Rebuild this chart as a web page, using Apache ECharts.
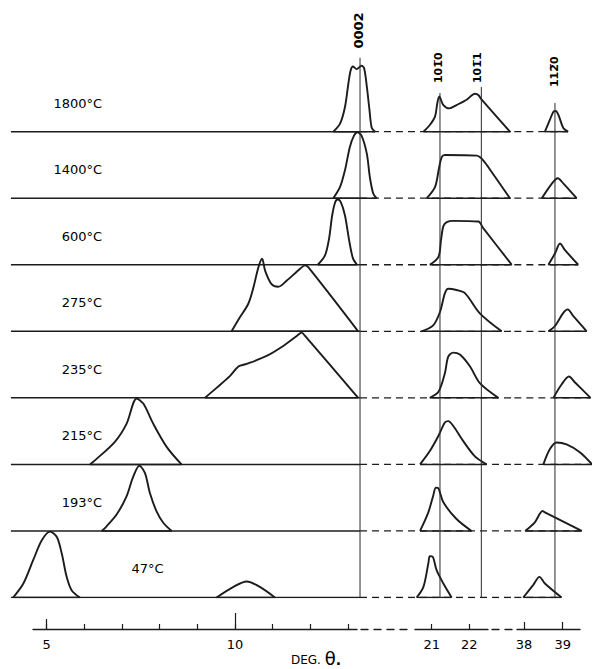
<!DOCTYPE html>
<html><head><meta charset="utf-8">
<script src="https://cdn.jsdelivr.net/npm/echarts@6/dist/echarts.min.js"></script>
<style>html,body{margin:0;padding:0;background:#fff}#c{width:592px;height:669px}</style>
</head><body><div id="c"></div>
<script>
// ---------- DATA (row 0 = bottom, 47 °C ... row 7 = top, 1800 °C) ----------
const temps = ['47°C','193°C','215°C','235°C','275°C','600°C','1400°C','1800°C'];
const reflections = ['0002','101\u03050','101\u03051','112\u03050'];
const reflectionTheta = [13.32, 21.22, 22.32, 38.80];
const reflectionTop = [8.11, 7.58, 7.67, 7.43];
const tickValuesLow = [5,6,7,8,9,10,11,12,13];
const tickLabelsLow = [5,10];
const tickValuesMid = [21,22];
const tickValuesHigh = [38,39];

// profiles: [theta (deg), intensity in row-spacing units]
const low_47a  = [[4.11,0],[4.38,0.21],[4.64,0.56],[4.87,0.86],[5.09,0.99],[5.27,0.91],[5.40,0.66],[5.53,0.31],[5.66,0.11],[5.88,0]];
const low_47b  = [[9.51,0],[9.96,0.16],[10.31,0.24],[10.66,0.16],[11.06,0]];
const low_193  = [[6.46,0],[6.59,0.07],[6.86,0.25],[7.12,0.52],[7.30,0.82],[7.46,0.98],[7.61,0.87],[7.74,0.57],[7.92,0.29],[8.10,0.12],[8.32,0]];
const low_215  = [[6.15,0],[6.28,0.06],[6.81,0.34],[7.12,0.61],[7.39,0.99],[7.57,0.91],[7.83,0.61],[8.19,0.26],[8.58,0]];
const low_235  = [[9.20,0],[9.51,0.15],[9.87,0.33],[10.09,0.47],[10.31,0.51],[10.84,0.63],[11.28,0.78],[11.64,0.93],[11.77,0.98],[11.86,0.93],[13.27,0]];
const low_275  = [[9.91,0],[10.13,0.21],[10.35,0.41],[10.49,0.66],[10.62,0.96],[10.72,1.09],[10.80,0.91],[10.97,0.71],[11.15,0.67],[11.37,0.76],[11.73,0.94],[11.86,0.99],[11.95,0.96],[13.27,0]];
const low_600  = [[12.20,0],[12.39,0.14],[12.50,0.40],[12.58,0.74],[12.66,0.94],[12.73,0.98],[12.81,0.94],[12.92,0.74],[13.03,0.37],[13.13,0.10],[13.24,0]];
const low_1400 = [[12.61,0],[12.79,0.17],[12.92,0.42],[13.05,0.77],[13.16,0.94],[13.25,0.99],[13.36,0.94],[13.50,0.67],[13.58,0.32],[13.67,0.07],[13.76,0]];
const low_1800 = [[12.61,0],[12.79,0.12],[12.92,0.37],[13.01,0.72],[13.07,0.92],[13.13,0.98],[13.23,0.94],[13.36,0.99],[13.43,0.95],[13.50,0.68],[13.57,0.33],[13.63,0.06],[13.72,0]];
const mid_47   = [[20.60,0],[20.78,0.16],[20.91,0.51],[20.95,0.62],[21.03,0.61],[21.13,0.41],[21.31,0.21],[21.53,0]];
const mid_193  = [[20.69,0],[20.91,0.28],[21.04,0.53],[21.11,0.65],[21.18,0.64],[21.31,0.43],[21.66,0.18],[22.06,0]];
const mid_215  = [[20.69,0],[20.95,0.20],[21.18,0.43],[21.35,0.63],[21.44,0.65],[21.57,0.58],[21.84,0.35],[22.15,0.12],[22.46,0]];
const mid_235  = [[20.95,0],[21.18,0.09],[21.35,0.37],[21.44,0.62],[21.57,0.68],[21.75,0.65],[22.02,0.47],[22.28,0.22],[22.77,0]];
const mid_275  = [[20.73,0],[21.04,0.09],[21.22,0.29],[21.35,0.57],[21.44,0.64],[21.66,0.62],[21.89,0.57],[22.28,0.27],[22.86,0]];
const mid_600  = [[20.95,0],[21.18,0.12],[21.25,0.38],[21.31,0.58],[21.40,0.64],[21.57,0.66],[22.24,0.65],[22.37,0.55],[23.13,0]];
const mid_1400 = [[20.87,0],[21.09,0.17],[21.20,0.47],[21.27,0.62],[21.35,0.65],[22.20,0.64],[22.37,0.57],[22.60,0.39],[23.08,0]];
const mid_1800 = [[20.78,0],[20.95,0.10],[21.09,0.23],[21.15,0.43],[21.20,0.53],[21.31,0.40],[21.47,0.35],[21.66,0.40],[21.93,0.48],[22.15,0.57],[22.24,0.55],[22.33,0.48],[23.08,0]];
const high_47   = [[37.98,0],[38.24,0.19],[38.40,0.31],[38.54,0.21],[38.97,0]];
const high_193  = [[38.03,0],[38.28,0.13],[38.48,0.30],[38.54,0.28],[39.49,0]];
const high_215  = [[38.50,0],[38.67,0.23],[38.84,0.33],[39.10,0.30],[39.45,0.18],[39.76,0]];
const high_235  = [[38.76,0],[38.97,0.20],[39.16,0.32],[39.32,0.23],[39.72,0]];
const high_275  = [[38.63,0],[38.80,0.08],[39.02,0.28],[39.13,0.33],[39.27,0.23],[39.62,0]];
const high_600  = [[38.63,0],[38.80,0.17],[38.93,0.32],[39.06,0.22],[39.40,0]];
const high_1400 = [[38.46,0],[38.72,0.22],[38.87,0.30],[39.02,0.22],[39.36,0]];
const high_1800 = [[38.54,0],[38.67,0.18],[38.76,0.30],[38.82,0.31],[38.89,0.25],[39.02,0.05],[39.14,0]];

const lowProfiles  = [[low_47a, low_47b],[low_193],[low_215],[low_235],[low_275],[low_600],[low_1400],[low_1800]];
const midProfiles  = [mid_47, mid_193, mid_215, mid_235, mid_275, mid_600, mid_1400, mid_1800];
const highProfiles = [high_47, high_193, high_215, high_235, high_275, high_600, high_1400, high_1800];

// ---------- LAYOUT ----------
const UNIT = 66.55, BASE0 = 597.5;
const YMAX = BASE0 / UNIT;
const FONT = 'DejaVu Sans';
const INK = '#000000';
const plotSegs = [
  {min:4.0,   max:14.25, left:235 - 6*37.66,   scale:37.66},
  {min:20.05, max:23.2,  left:431.7 - 0.95*37.6, scale:37.6},
  {min:37.75, max:39.8,  left:524 - 0.25*38.7,  scale:38.7}
];
const lowBaseStart = 4.05, lowBaseEnd = 13.32;
const labelTheta = 6.47, labelLift = 0.43, label47Theta = 7.68;
const reflLabelY = [8.52, 7.96, 7.96, 7.90];
const reflLabelX = [13.27, 21.19, 22.22, 38.80];

const grids = [], xAxes = [], yAxes = [], series = [];
plotSegs.forEach((s,i)=>{
  grids.push({left:s.left, top:0, width:(s.max-s.min)*s.scale, height:BASE0, containLabel:false, outerBoundsMode:'none'});
  xAxes.push({type:'value', gridIndex:i, min:s.min, max:s.max, show:false});
  yAxes.push({type:'value', gridIndex:i, min:0, max:YMAX, show:false});
});
const axisSegs = [
  {left:33,  width:324, min:4.636,  max:13.24,  ticks:tickValuesLow, labels:tickLabelsLow, dashed:false},
  {left:361, width:51,  min:0, max:1, ticks:[], labels:[], dashed:true},
  {left:415, width:73,  min:20.556, max:22.497, ticks:tickValuesMid, labels:tickValuesMid, dashed:false},
  {left:492, width:22,  min:0, max:1, ticks:[], labels:[], dashed:true},
  {left:517, width:63,  min:37.819, max:39.447, ticks:tickValuesHigh, labels:tickValuesHigh, dashed:false}
];
axisSegs.forEach((a,k)=>{
  const gi = grids.length;
  grids.push({left:a.left, top:600, width:a.width, height:29, containLabel:false, outerBoundsMode:'none'});
  yAxes.push({type:'value', gridIndex:gi, min:0, max:1, show:false});
  xAxes.push({type:'value', gridIndex:gi, min:a.min, max:a.max, position:'bottom',
    axisLine:{show:true, onZero:false, lineStyle:{color:'#1c1c1c', width:1.4, type:a.dashed?[7,6]:'solid'}},
    axisTick:{show:a.ticks.length>0, inside:true, length:k===4?7:5, lineStyle:{color:'#1c1c1c',width:1.2}, customValues:a.ticks},
    axisLabel:{show:a.labels.length>0, customValues:a.labels, margin:9, fontFamily:FONT, fontSize:13, color:INK},
    splitLine:{show:false}});
  if(k===0){
    [[5,10],[10,16]].forEach(([v,len])=>{
      xAxes.push({type:'value', gridIndex:gi, min:a.min, max:a.max, position:'bottom',
        axisLine:{show:false, onZero:false}, axisLabel:{show:false}, splitLine:{show:false},
        axisTick:{show:true, inside:true, length:len, customValues:[v], lineStyle:{color:'#1c1c1c',width:1.2}}});
    });
  }
});
function line(data, gi, opts){
  series.push(Object.assign({type:'line', xAxisIndex:gi, yAxisIndex:gi, data, showSymbol:false, symbol:'none',
    silent:true, animation:false, lineStyle:{color:'#1c1c1c', width:1.5}}, opts||{}));
}
const LC = '#1c1c1c';
temps.forEach((t,r)=>{
  line([[lowBaseStart,r],[lowBaseEnd,r]],0,{lineStyle:{color:LC,width:1.5}, z:2});
  line([[lowBaseEnd,r],[plotSegs[0].max,r]],0,{lineStyle:{color:LC,width:1.3,type:[7,5]}, z:1});
  line([[plotSegs[1].min,r],[plotSegs[1].max,r]],1,{lineStyle:{color:LC,width:1.3,type:[7,5]}, z:1});
  const hp = highProfiles[r];
  line([[plotSegs[2].min,r],[hp[hp.length-1][0],r]],2,{lineStyle:{color:LC,width:1.3,type:[7,5]}, z:1});
  const addProfile = (p, gi)=>{
    line([[p[0][0],r],[p[p.length-1][0],r]], gi, {lineStyle:{color:LC,width:1.5}, z:3});
    line(p.map(([x,h])=>[x, r+h]), gi, {smooth:0.3, lineStyle:{color:LC,width:1.9}, z:4});
  };
  lowProfiles[r].forEach(p=>addProfile(p,0));
  addProfile(midProfiles[r],1);
  addProfile(hp,2);
});
// reference lines
const reflGrid = [0,1,1,2];
reflections.forEach((name,i)=>{
  line([[reflectionTheta[i],0],[reflectionTheta[i],reflectionTop[i]]], reflGrid[i], {lineStyle:{color:'#2a2a2a',width:1}, z:5});
});
const chart = echarts.init(document.getElementById('c'), null, {renderer:'svg'});
chart.setOption({
  backgroundColor:'#ffffff',
  animation:false,
  grid:grids, xAxis:xAxes, yAxis:yAxes, series
});
// text labels positioned through the chart's own scales
const gText = [];
temps.forEach((t,r)=>{
  const p = chart.convertToPixel({gridIndex:0}, [r===0?label47Theta:labelTheta, r+labelLift]);
  gText.push({type:'text', x:p[0], y:p[1], silent:true,
    style:{text:t, fontFamily:FONT, fontSize:13, fill:INK, align:r===0?'center':'right', verticalAlign:'middle'}});
});
reflections.forEach((name,i)=>{
  const p = chart.convertToPixel({gridIndex:reflGrid[i]}, [reflLabelX[i], reflLabelY[i]]);
  gText.push({type:'text', x:p[0], y:p[1], rotation:Math.PI/2, silent:true,
    style:{text:name, fontFamily:FONT, fontSize:i===0?13:11, fontWeight:'bold', fill:INK, align:'center', verticalAlign:'middle'}});
});
gText.push({type:'text', left:291, top:649, silent:true,
  style:{text:'{a|DEG. }{b|θ}{c|.}', rich:{
    a:{fontFamily:FONT,fontSize:12,fill:INK,verticalAlign:'bottom',padding:[0,0,1,0]},
    b:{fontFamily:FONT,fontSize:18,fill:INK},
    c:{fontFamily:FONT,fontSize:14,fontWeight:'bold',fill:INK,verticalAlign:'bottom'}}}});
chart.setOption({graphic:gText});
</script></body></html>
